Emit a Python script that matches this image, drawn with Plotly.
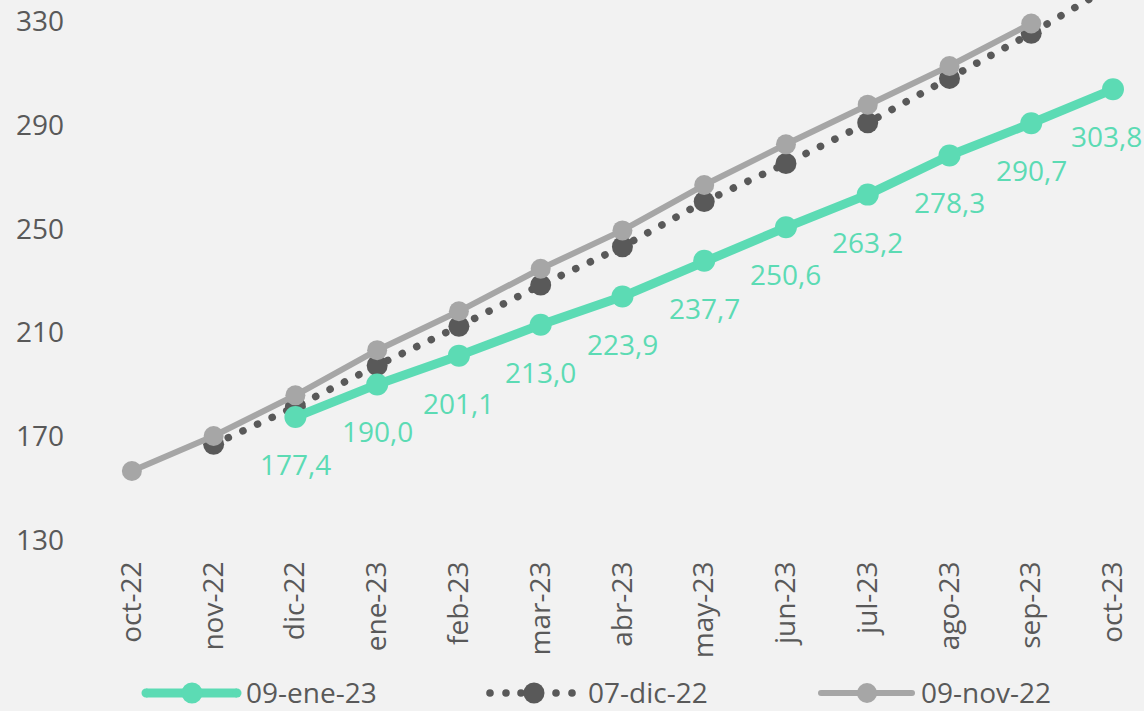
import plotly.graph_objects as go

# Monthly categories on the x axis
months = ["oct-22", "nov-22", "dic-22", "ene-23", "feb-23", "mar-23", "abr-23",
          "may-23", "jun-23", "jul-23", "ago-23", "sep-23", "oct-23"]

# Survey rounds (forecast path by publication date)
ene23_values = [None, None, 177.4, 190.0, 201.1, 213.0, 223.9, 237.7,
                250.6, 263.2, 278.3, 290.7, 303.8]
dic22_values = [None, 166.9, 181.4, 197.3, 212.4, 228.3, 243.1, 260.5,
                275.2, 290.9, 308.0, 325.4, 344.0]
nov22_values = [156.6, 170.1, 185.8, 203.2, 218.2, 234.6, 249.4, 266.9,
                282.6, 297.9, 312.8, 329.2, None]

series_names = ["09-ene-23", "07-dic-22", "09-nov-22"]
y_ticks = [130, 170, 210, 250, 290, 330]

GREEN = "#5cdbb4"
DARK = "#595959"
LIGHT = "#a6a6a6"
TEXT = "#595959"
BG = "#f2f2f2"
FONT = "Open Sans"
FS = 28

W, H = 1144, 711
M_L, M_R, M_T, M_B = 91, 0, 0, 171
PW, PH = W - M_L - M_R, H - M_T - M_B

fig = go.Figure()

fig.add_trace(go.Scatter(
    x=months, y=dic22_values, name=series_names[1], mode="lines+markers",
    line=dict(color=DARK, width=7.5, dash="0.1px,16px"),
    marker=dict(color=DARK, size=21), showlegend=False, cliponaxis=True,
))
fig.add_trace(go.Scatter(
    x=months, y=nov22_values, name=series_names[2], mode="lines+markers",
    line=dict(color=LIGHT, width=6),
    marker=dict(color=LIGHT, size=20), showlegend=False, cliponaxis=True,
))
fig.add_trace(go.Scatter(
    x=months, y=ene23_values, name=series_names[0], mode="lines+markers",
    line=dict(color=GREEN, width=9),
    marker=dict(color=GREEN, size=22), showlegend=False, cliponaxis=False,
))

# Value labels under the latest series
for i, (m, v) in enumerate(zip(months, ene23_values)):
    if v is None:
        continue
    fig.add_annotation(
        x=m, y=v, text=f"{v:.1f}".replace(".", ","), showarrow=False,
        yshift=-47, xshift=-7 if i == len(months) - 1 else 0,
        font=dict(family=FONT, size=FS, color=GREEN),
        xanchor="center", yanchor="middle",
    )


def px_x(px):
    return (px - M_L) / PW


def px_y(py):
    return (H - M_B - py) / PH


# Legend drawn below the axis
LEG_Y = 693
shapes = []


def circle(cx, cy, r, color):
    return dict(type="circle", xref="paper", yref="paper",
                x0=px_x(cx - r), x1=px_x(cx + r), y0=px_y(cy + r), y1=px_y(cy - r),
                fillcolor=color, line=dict(width=0), layer="above")


shapes.append(dict(type="line", xref="paper", yref="paper",
                   x0=px_x(146), x1=px_x(237), y0=px_y(LEG_Y), y1=px_y(LEG_Y),
                   line=dict(color=GREEN, width=9)))
shapes.append(circle(146, LEG_Y, 4.5, GREEN))
shapes.append(circle(237, LEG_Y, 4.5, GREEN))
shapes.append(circle(192, LEG_Y, 10.5, GREEN))

for dx in (490, 506, 556, 572):
    shapes.append(circle(dx, LEG_Y, 3.8, DARK))
shapes.append(circle(521, LEG_Y, 3.8, DARK))
shapes.append(circle(534, LEG_Y, 10.5, DARK))

shapes.append(dict(type="line", xref="paper", yref="paper",
                   x0=px_x(821), x1=px_x(912), y0=px_y(LEG_Y), y1=px_y(LEG_Y),
                   line=dict(color=LIGHT, width=6)))
shapes.append(circle(821, LEG_Y, 3, LIGHT))
shapes.append(circle(912, LEG_Y, 3, LIGHT))
shapes.append(circle(867, LEG_Y, 10, LIGHT))

for name, left in zip(series_names, (245, 587, 920)):
    fig.add_annotation(
        xref="paper", yref="paper", x=px_x(left), y=px_y(LEG_Y - 1),
        text=name, showarrow=False, xanchor="left", yanchor="middle",
        borderpad=0, font=dict(family=FONT, size=FS, color=TEXT),
    )

fig.update_layout(
    width=W, height=H,
    margin=dict(l=M_L, r=M_R, t=M_T, b=M_B, pad=0),
    paper_bgcolor=BG, plot_bgcolor=BG,
    font=dict(family=FONT, size=FS, color=TEXT),
    showlegend=False,
    shapes=shapes,
    xaxis=dict(
        type="category", range=[-0.5, 12 + (W - 1113) / 81.75],
        showgrid=False, zeroline=False, showline=False, ticks="",
        tickangle=-90, ticklabelstandoff=15,
        tickfont=dict(family=FONT, size=FS, color=TEXT),
    ),
    yaxis=dict(
        range=[130, 130 + PH / 2.593], tickvals=y_ticks,
        showgrid=False, zeroline=False, showline=False, ticks="",
        ticklabelstandoff=26,
        tickfont=dict(family=FONT, size=FS, color=TEXT),
    ),
)

round_caps = (
    "document.querySelectorAll('.scatterlayer .js-line')"
    ".forEach(function(p){p.style.strokeLinecap='round';"
    "p.style.strokeLinejoin='round';});"
)

fig.write_html("out.html", post_script=round_caps)
